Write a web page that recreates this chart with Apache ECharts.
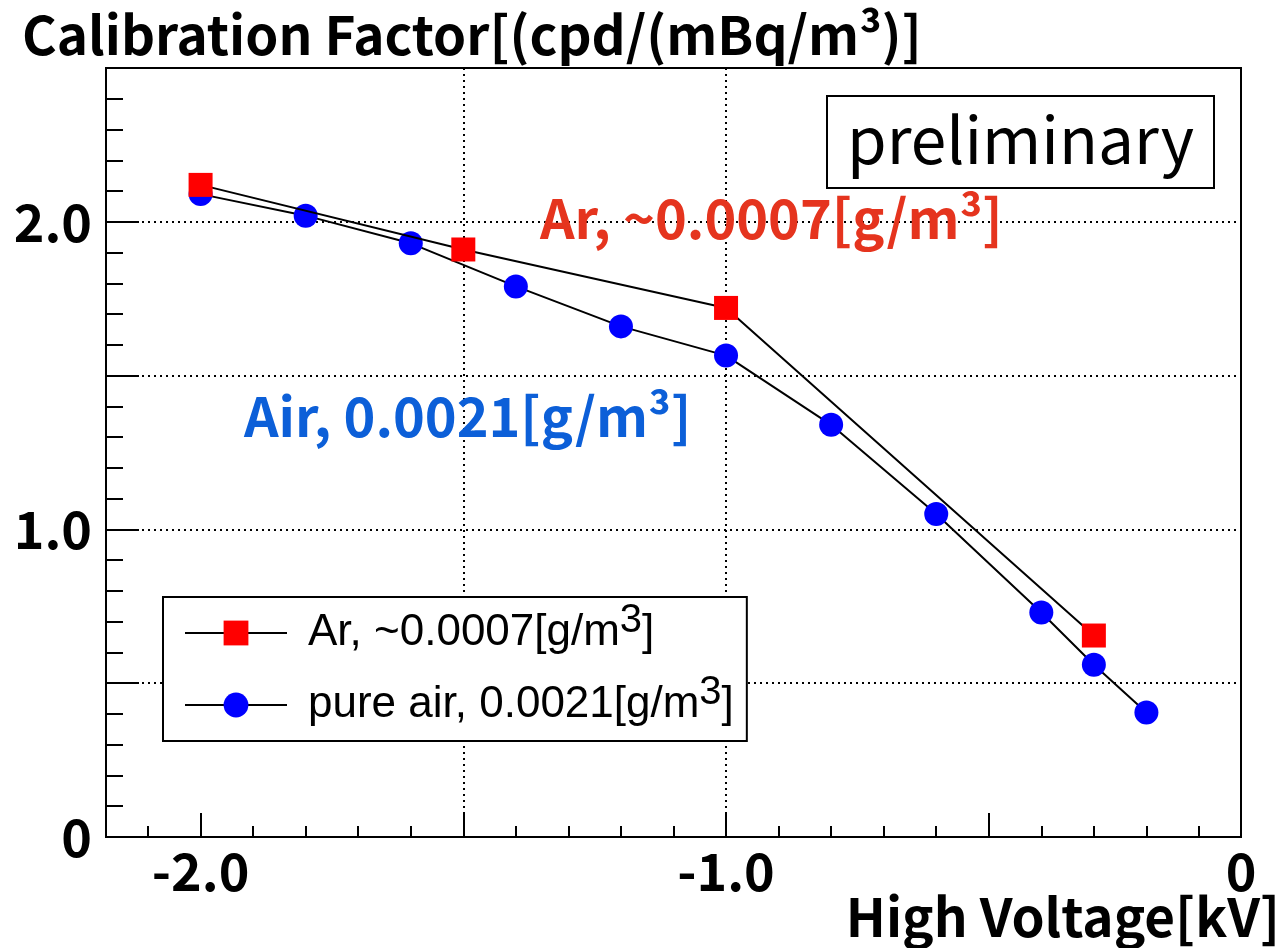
<!DOCTYPE html>
<html>
<head>
<meta charset="utf-8">
<title>Calibration Factor vs High Voltage</title>
<script src="https://cdn.jsdelivr.net/npm/echarts@6/dist/echarts.min.js"></script>
<style>
  html, body { margin: 0; padding: 0; background: #fff; }
  #chart { width: 1287px; height: 948px; }
</style>
</head>
<body>
<div id="chart"></div>
<script>
// Measured calibration factors [cpd/(mBq/m^3)] against high voltage [kV]
const arName = 'Ar, ~0.0007[g/m³]';
const arVoltage = [-2.0, -1.5, -1.0, -0.3];
const arFactor = [2.12, 1.91, 1.72, 0.655];

const airName = 'pure air, 0.0021[g/m³]';
const airVoltage = [-2.0, -1.8, -1.6, -1.4, -1.2, -1.0, -0.8, -0.6, -0.4, -0.3, -0.2];
const airFactor = [2.09, 2.02, 1.93, 1.79, 1.66, 1.565, 1.34, 1.05, 0.73, 0.56, 0.405];

// Axis ranges and ticks
const xMin = -2.18;
const xMax = -0.02;
const xMajorTicks = [-2.0, -1.5, -1.0, -0.5];
const xMinorTicks = [-2.1, -1.9, -1.8, -1.7, -1.6, -1.4, -1.3, -1.2, -1.1,
                     -0.9, -0.8, -0.7, -0.6, -0.4, -0.3, -0.2, -0.1];
const xLabelValues = [-2.0, -1.0, xMax];
const yMin = 0;
const yMax = 2.5;
const yLabelValues = [0, 1, 2];

const boldFont = '"Noto Sans CJK JP", "Noto Sans", sans-serif';
const legendFont = '"Liberation Sans", Arial, sans-serif';

function pairs(xs, ys) {
  return xs.map((x, i) => [x, ys[i]]);
}

// Legend text with a raised "3" like m^{3}
function legendLabel(name) {
  const parts = name.split('³');
  return '{lead|' + parts[0] + '}{sup|3}{t|' + parts[1] + '}';
}

const dotted = { color: '#000', width: 2, type: [2, 4] };

const chart = echarts.init(document.getElementById('chart'), null, { renderer: 'canvas' });

chart.setOption({
  animation: false,
  backgroundColor: '#fff',
  title: [
    {
      text: 'Calibration Factor[(cpd/(mBq/m³)]',
      left: 22,
      top: 8,
      padding: 0,
      textStyle: { fontFamily: boldFont, fontWeight: 'bold', fontSize: 53, color: '#000' }
    },
    {
      text: 'High Voltage[kV]',
      right: 7,
      top: 890,
      padding: 0,
      textStyle: { fontFamily: boldFont, fontWeight: 'bold', fontSize: 53, color: '#000' }
    }
  ],
  grid: {
    left: 106, right: 46, top: 68, bottom: 111,
    containLabel: false,
    outerBoundsMode: 'none',
    show: true, borderColor: '#000', borderWidth: 2, backgroundColor: 'transparent'
  },
  legend: {
    orient: 'vertical',
    left: 163,
    top: 597,
    data: [arName, airName],
    itemWidth: 102,
    itemHeight: 31,
    itemGap: 8,
    padding: [4, 13, 4, 21],
    borderColor: '#000',
    borderWidth: 2,
    backgroundColor: '#fff',
    selectedMode: false,
    formatter: legendLabel,
    textStyle: {
      fontFamily: legendFont, fontSize: 44, color: '#000',
      rich: {
        lead: { fontFamily: legendFont, fontSize: 44, lineHeight: 40, padding: [0, 0, 0, 16] },
        t: { fontFamily: legendFont, fontSize: 44, lineHeight: 40 },
        sup: { fontFamily: legendFont, fontSize: 40, lineHeight: 16, padding: [0, 0, 24, 0] }
      }
    }
  },
  xAxis: [
    {
      type: 'value',
      min: xMin,
      max: xMax,
      position: 'bottom',
      axisLine: { show: false },
      axisTick: {
        show: true, inside: true, length: 24,
        lineStyle: { color: '#000', width: 2 },
        customValues: xMajorTicks
      },
      axisLabel: {
        show: true,
        customValues: xLabelValues,
        margin: 8,
        fontFamily: boldFont, fontWeight: 'bold', fontSize: 52, color: '#000',
        formatter: v => (Math.abs(v - xMax) < 1e-9 ? '0' : v.toFixed(1))
      },
      splitLine: { show: true, showMinLine: false, showMaxLine: false, lineStyle: dotted }
    },
    {
      type: 'value',
      min: xMin,
      max: xMax,
      position: 'bottom',
      axisLine: { show: false },
      axisTick: {
        show: true, inside: true, length: 11,
        lineStyle: { color: '#000', width: 2 },
        customValues: xMinorTicks
      },
      axisLabel: { show: false },
      splitLine: { show: false }
    }
  ],
  yAxis: {
    type: 'value',
    min: yMin,
    max: yMax,
    interval: 0.5,
    axisLine: { show: false },
    axisTick: { show: true, inside: true, length: 33, lineStyle: { color: '#000', width: 2 } },
    minorTick: { show: true, splitNumber: 5, length: 17, lineStyle: { color: '#000', width: 2 } },
    axisLabel: {
      customValues: yLabelValues,
      margin: 14,
      fontFamily: boldFont, fontWeight: 'bold', fontSize: 52, color: '#000',
      formatter: v => (v === 0 ? '0' : v.toFixed(1))
    },
    splitLine: { show: true, showMinLine: false, showMaxLine: false, lineStyle: dotted }
  },
  series: [
    {
      name: arName,
      type: 'line',
      xAxisIndex: 0,
      data: pairs(arVoltage, arFactor),
      symbol: 'rect',
      symbolSize: 24,
      itemStyle: { color: '#ff0000' },
      lineStyle: { color: '#000', width: 2 },
      z: 4
    },
    {
      name: airName,
      type: 'line',
      xAxisIndex: 0,
      data: pairs(airVoltage, airFactor),
      symbol: 'circle',
      symbolSize: 24,
      itemStyle: { color: '#0000ff' },
      lineStyle: { color: '#000', width: 2 },
      z: 3
    }
  ],
  graphic: [
    {
      type: 'group',
      left: 826,
      top: 95,
      children: [
        { type: 'rect', shape: { x: 0, y: 0, width: 387, height: 92 },
          style: { fill: '#fff', stroke: '#000', lineWidth: 2 } },
        { type: 'text', x: 20, y: 44,
          style: { text: 'preliminary', fontFamily: '"Noto Sans CJK JP", sans-serif',
                   fontWeight: 'normal', fontSize: 64, fill: '#000', verticalAlign: 'middle' } }
      ],
      z: 10
    },
    {
      type: 'text', x: 540, y: 218, z: 10,
      style: { text: 'Ar, ~0.0007[g/m³]', fontFamily: boldFont, fontWeight: 'bold',
               fontSize: 54, fill: '#e5341e', verticalAlign: 'middle' }
    },
    {
      type: 'text', x: 244, y: 416, z: 10,
      style: { text: 'Air, 0.0021[g/m³]', fontFamily: boldFont, fontWeight: 'bold',
               fontSize: 54, fill: '#0c5fd8', verticalAlign: 'middle' }
    }
  ]
});
</script>
</body>
</html>
